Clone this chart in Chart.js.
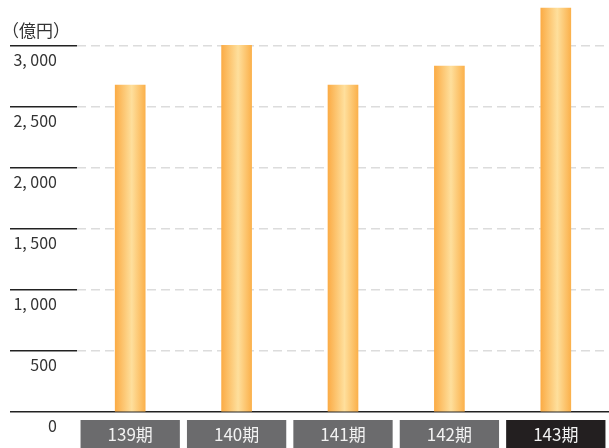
<!DOCTYPE html>
<html lang="ja">
<head>
<meta charset="utf-8">
<title>売上高の推移</title>
<script src="https://cdn.jsdelivr.net/npm/chart.js@4/dist/chart.umd.min.js"></script>
<style>
  html, body { margin: 0; padding: 0; background: #fff; }
  #wrap { position: relative; width: 609px; height: 448px; }
</style>
</head>
<body>
<div id="wrap"><canvas id="chart" width="609" height="448"></canvas></div>
<script>
// 期別の売上高（億円）
const periods = ['139期', '140期', '141期', '142期', '143期'];
const sales = [2680, 3005, 2680, 2836, 3311];
const yTickValues = [0, 500, 1000, 1500, 2000, 2500, 3000];
const unitLabel = '（億円）';

const FONT = '"Noto Sans CJK JP", "Noto Sans", sans-serif';

function formatTick(v) {
  return String(v).replace(/\B(?=(\d{3})+(?!\d))/g, ', ');
}

// 棒の横方向グラデーション
function barGradient(ctx) {
  const chart = ctx.chart;
  const xScale = chart.scales.x;
  if (!xScale || !chart.chartArea) return '#fbb04b';
  const cx = xScale.getPixelForValue(ctx.dataIndex);
  const half = 15;
  const g = chart.ctx.createLinearGradient(cx - half, 0, cx + half, 0);
  g.addColorStop(0, '#fbac46');
  g.addColorStop(0.55, '#fedf9c');
  g.addColorStop(1, '#fbb14c');
  return g;
}

const isZero = (ctx) => ctx.tick && ctx.tick.value === 0;

// 左上の単位表示
const unitPlugin = {
  id: 'unitLabel',
  afterDraw(chart) {
    const c = chart.ctx;
    c.save();
    c.font = '17px ' + FONT;
    c.fillStyle = '#333';
    c.textBaseline = 'middle';
    c.textAlign = 'left';
    c.fillText(unitLabel, 2, 31);
    c.restore();
  }
};

new Chart(document.getElementById('chart'), {
  type: 'bar',
  data: {
    labels: periods,
    datasets: [{
      data: sales,
      backgroundColor: barGradient,
      borderWidth: 0,
      barThickness: 30
    }]
  },
  options: {
    responsive: false,
    animation: false,
    layout: { padding: 0 },
    plugins: {
      legend: { display: false },
      tooltip: { enabled: false }
    },
    scales: {
      x: {
        offset: true,
        grid: { display: false, drawTicks: false },
        border: { display: false },
        ticks: {
          font: { family: FONT, size: 17 },
          color: '#f2f2f2',
          padding: 12,
          showLabelBackdrop: true,
          backdropColor: (ctx) => ctx.index === periods.length - 1 ? '#231f20' : '#6b6b6d',
          backdropPadding: { top: 4, bottom: 8, left: 27, right: 27 }
        },
        afterFit(scale) { scale.height = 36; }
      },
      y: {
        min: 0,
        max: 3377,
        border: {
          display: false,
          dash: (ctx) => isZero(ctx) ? [] : [9, 5]
        },
        afterBuildTicks(scale) {
          scale.ticks = yTickValues.map(v => ({ value: v }));
        },
        grid: {
          color: (ctx) => isZero(ctx) ? '#222' : '#dcdcdc',
          lineWidth: 1.5,
          tickColor: '#222',
          tickWidth: 1.5,
          tickLength: 67,
          tickBorderDash: []
        },
        ticks: {
          font: { family: FONT, size: 16 },
          color: '#333',
          padding: -47,
          labelOffset: 14,
          callback: (v) => formatTick(v)
        },
        afterFit(scale) { scale.width = 77; }
      }
    }
  },
  plugins: [unitPlugin]
});
</script>
</body>
</html>
